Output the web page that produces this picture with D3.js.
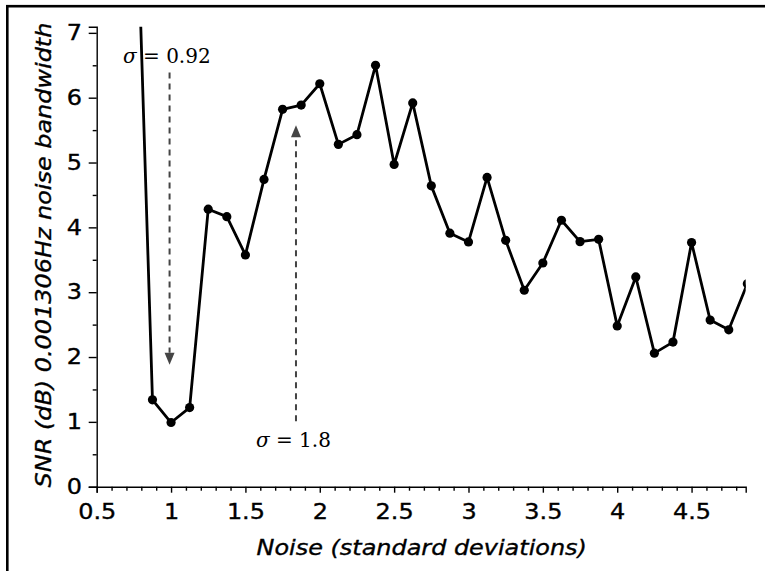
<!DOCTYPE html>
<html>
<head>
<meta charset="utf-8">
<script src="https://cdn.jsdelivr.net/npm/d3@7"></script>
<style>
  html, body { margin: 0; padding: 0; background: #fff; }
  svg { display: block; }
</style>
</head>
<body>
<svg id="chart" width="765" height="571"></svg>
<script>
// Noise level (standard deviations) at which each SNR value was measured
const noiseLevels = [0.75, 0.875, 1.0, 1.125, 1.25, 1.375, 1.5, 1.625, 1.75, 1.875,
  2.0, 2.125, 2.25, 2.375, 2.5, 2.625, 2.75, 2.875, 3.0, 3.125, 3.25, 3.375, 3.5,
  3.625, 3.75, 3.875, 4.0, 4.125, 4.25, 4.375, 4.5, 4.625, 4.75, 4.875];
// SNR in dB over a 0.001306 Hz noise bandwidth
const snrValues = [10.5, 1.34, 0.99, 1.22, 4.28, 4.165, 3.575, 4.74, 5.82, 5.886,
  6.215, 5.28, 5.43, 6.50, 4.97, 5.92, 4.64, 3.91, 3.775, 4.77, 3.80, 3.03, 3.45,
  4.11, 3.78, 3.815, 2.48, 3.235, 2.06, 2.23, 3.765, 2.57, 2.42, 3.13];

const xTicks = [0.5, 1, 1.5, 2, 2.5, 3, 3.5, 4, 4.5];
const xMinorTicks = [0.6, 0.7, 0.8, 0.9, 1.1, 1.2, 1.3, 1.4, 1.6, 1.7, 1.8, 1.9,
  2.1, 2.2, 2.3, 2.4, 2.6, 2.7, 2.8, 2.9, 3.1, 3.2, 3.3, 3.4, 3.6, 3.7, 3.8, 3.9,
  4.1, 4.2, 4.3, 4.4, 4.6, 4.7, 4.8];
const yTicks = [0, 1, 2, 3, 4, 5, 6, 7];
const yMinorTicks = [0.5, 1.5, 2.5, 3.5, 4.5, 5.5, 6.5];

// Two annotations: an arrow with its σ label
const annotations = [
  { label: "0.92", textX: 0.677, textY: 6.54, arrowX: 0.99, from: 6.39, to: 1.88 },
  { label: "1.8",  textX: 1.571, textY: 0.61, arrowX: 1.84, from: 1.01, to: 5.575 }
];

const svg = d3.select("#chart");
const plot = { left: 96.7, right: 745.7, top: 26.7, bottom: 486.7 };

const x = d3.scaleLinear().domain([0.5, 4.864]).range([plot.left, plot.right]);
const y = d3.scaleLinear().domain([0, 7.095]).range([plot.bottom, plot.top]);

// outer frame
svg.append("rect")
  .attr("x", 7.3).attr("y", 6.2).attr("width", 800).attr("height", 600)
  .attr("fill", "none").attr("stroke", "#000").attr("stroke-width", 2.6);

const font = "'DejaVu Sans', sans-serif";
const fontSize = 21;
const widen = 1.14; // wide sans lettering

function heavy(sel) {
  return sel.attr("stroke", "#000").attr("stroke-width", 0.35);
}

function styleAxis(g) {
  g.selectAll("path.domain").attr("stroke", "#000").attr("stroke-width", 1.4);
  g.selectAll(".tick line").attr("stroke", "#000").attr("stroke-width", 1.4);
  heavy(g.selectAll(".tick text")
    .attr("font-family", font).attr("font-size", fontSize).attr("fill", "#000")
    .attr("transform", `scale(${widen},1)`));
}

const xMinor = svg.append("g").attr("transform", `translate(0,${plot.bottom})`)
  .call(d3.axisBottom(x).tickValues(xMinorTicks).tickSize(4).tickFormat(""));
styleAxis(xMinor);
xMinor.select("path.domain").remove();
const xAxis = svg.append("g").attr("transform", `translate(0,${plot.bottom})`)
  .call(d3.axisBottom(x).tickValues(xTicks).tickSize(6).tickPadding(11).tickFormat(d3.format("")));
styleAxis(xAxis);

const yMinor = svg.append("g").attr("transform", `translate(${plot.left},0)`)
  .call(d3.axisLeft(y).tickValues(yMinorTicks).tickSize(4).tickFormat(""));
styleAxis(yMinor);
yMinor.select("path.domain").remove();
const yAxis = svg.append("g").attr("transform", `translate(${plot.left},0)`)
  .call(d3.axisLeft(y).tickValues(yTicks).tickSize(8).tickPadding(5).tickFormat(d3.format("d")));
styleAxis(yAxis);

// axis titles
heavy(svg.append("text")
  .attr("transform", `translate(421.7,555) scale(${widen},1)`)
  .attr("text-anchor", "middle")
  .attr("font-family", font).attr("font-style", "italic").attr("font-size", fontSize)
  .text("Noise (standard deviations)"));

heavy(svg.append("text")
  .attr("transform", `translate(51,255) rotate(-90) scale(${widen},1)`)
  .attr("text-anchor", "middle")
  .attr("font-family", font).attr("font-style", "italic").attr("font-size", fontSize)
  .text("SNR (dB) 0.001306Hz noise bandwidth"));

// clip region for the data
svg.append("defs").append("clipPath").attr("id", "plotClip")
  .append("rect")
  .attr("x", plot.left).attr("y", plot.top)
  .attr("width", plot.right - plot.left).attr("height", plot.bottom - plot.top);

// annotation arrows and labels
annotations.forEach(a => {
  const dir = a.to < a.from ? 1 : -1; // 1: arrow points down on screen
  const ax = x(a.arrowX), tip = y(a.to), base = tip - dir * 12;
  svg.append("line")
    .attr("x1", ax).attr("x2", ax)
    .attr("y1", y(a.from)).attr("y2", base)
    .attr("stroke", "#444").attr("stroke-width", 2)
    .attr("stroke-dasharray", "6,5");
  svg.append("path")
    .attr("d", `M${ax - 5},${base} L${ax + 5},${base} L${ax},${tip} Z`)
    .attr("fill", "#444");
  const t = svg.append("text")
    .attr("x", x(a.textX)).attr("y", y(a.textY))
    .attr("font-family", "'DejaVu Serif', serif").attr("font-size", 20).attr("fill", "#000");
  t.append("tspan").attr("font-style", "italic").text("σ");
  t.append("tspan").text(" = " + a.label);
});

// data line and markers
const series = noiseLevels.map((n, i) => ({ n, v: snrValues[i] }));
const g = svg.append("g").attr("clip-path", "url(#plotClip)");
g.append("path")
  .datum(series)
  .attr("fill", "none").attr("stroke", "#000").attr("stroke-width", 2.8)
  .attr("stroke-linejoin", "round")
  .attr("d", d3.line().x(d => x(d.n)).y(d => y(d.v)));
g.selectAll("circle")
  .data(series)
  .join("circle")
  .attr("cx", d => x(d.n)).attr("cy", d => y(d.v))
  .attr("r", 4.6).attr("fill", "#000");
</script>
</body>
</html>
